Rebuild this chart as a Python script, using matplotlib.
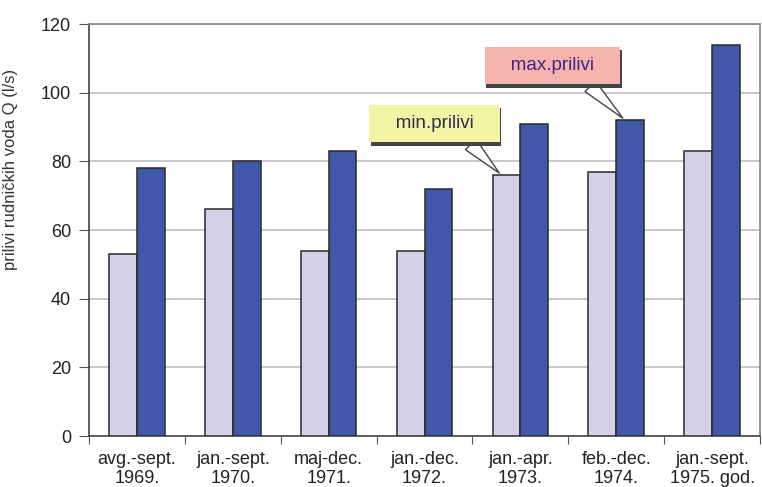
import numpy as np
import matplotlib.pyplot as plt
import matplotlib.patheffects as pe

plt.rcParams['font.family'] = ['Liberation Sans', 'DejaVu Sans']

# donnees
periodes = ['avg.-sept.\n1969.', 'jan.-sept.\n1970.', 'maj-dec.\n1971.', 'jan.-dec.\n1972.',
            'jan.-apr.\n1973.', 'feb.-dec.\n1974.', 'jan.-sept.\n1975. god.']
min_prilivi = [53, 66, 54, 54, 76, 77, 83]
max_prilivi = [78, 80, 83, 72, 91, 92, 114]

x = np.arange(len(periodes)) + 0.5
w = 0.29

fig = plt.figure(figsize=(7.62, 4.87), dpi=100)
ax = fig.add_axes([0.1168, 0.1047, 0.8806, 0.846])

ax.bar(x - w / 2, min_prilivi, w, color='#d6d0e8', edgecolor='#2a2a2a', linewidth=1.1, zorder=3)
ax.bar(x + w / 2, max_prilivi, w, color='#4158a8', edgecolor='#2a2a2a', linewidth=1.1, zorder=3)

ax.set_xlim(0, len(periodes))
ax.set_ylim(0, 120)
ax.set_yticks(np.arange(0, 121, 20))
ax.yaxis.grid(True, color='#bdbdbd', linewidth=1.2, zorder=0)

# ticks x aux limites des categories, labels au centre
ax.set_xticks(np.arange(len(periodes) + 1))
ax.set_xticklabels([])
ax.set_xticks(x, minor=True)
ax.set_xticklabels(periodes, minor=True, fontsize=13, linespacing=1.12, color='#222222')
ax.tick_params(axis='x', which='minor', length=0, pad=11)
ax.tick_params(axis='x', which='major', length=6, color='#555555')
ax.tick_params(axis='y', length=7, labelsize=13, color='#555555', labelcolor='#222222', pad=6)

for s in ['left', 'bottom']:
    ax.spines[s].set_color('#444444')
    ax.spines[s].set_linewidth(1.2)
for s in ['top', 'right']:
    ax.spines[s].set_color('#888888')
    ax.spines[s].set_linewidth(1.2)

ax.set_ylabel('prilivi rudničkih voda Q (l/s)', fontsize=12, color='#333333')
ax.yaxis.set_label_coords(-0.106, 0.648)

# bulles
shadow = [pe.withSimplePatchShadow(offset=(1, -2.5), shadow_rgbFace='#444444', alpha=1)]
a1 = ax.annotate('   min.prilivi   ', xy=(4.3, min_prilivi[4]), xytext=(3.604, 91.0),
                 fontsize=13.5, color='#2e2a4a', ha='center', va='center',
                 bbox=dict(boxstyle='square,pad=0.55', fc='#f4f4a6', ec='none'),
                 arrowprops=dict(arrowstyle='wedge,tail_width=0.8,shrink_factor=0.5',
                                 fc='white', ec='#444444', lw=1.0, relpos=(0.72, 0.0)),
                 zorder=5)
a1.get_bbox_patch().set_path_effects(shadow)
a2 = ax.annotate('   max.prilivi   ', xy=(5.59, max_prilivi[5]), xytext=(4.835, 107.9),
                 fontsize=13.5, color='#4a2080', ha='center', va='center',
                 bbox=dict(boxstyle='square,pad=0.55', fc='#f4b4ae', ec='none'),
                 arrowprops=dict(arrowstyle='wedge,tail_width=0.8,shrink_factor=0.5',
                                 fc='white', ec='#444444', lw=1.0, relpos=(0.72, 0.0)),
                 zorder=5)
a2.get_bbox_patch().set_path_effects(shadow)

plt.savefig('out.png', dpi=100)
